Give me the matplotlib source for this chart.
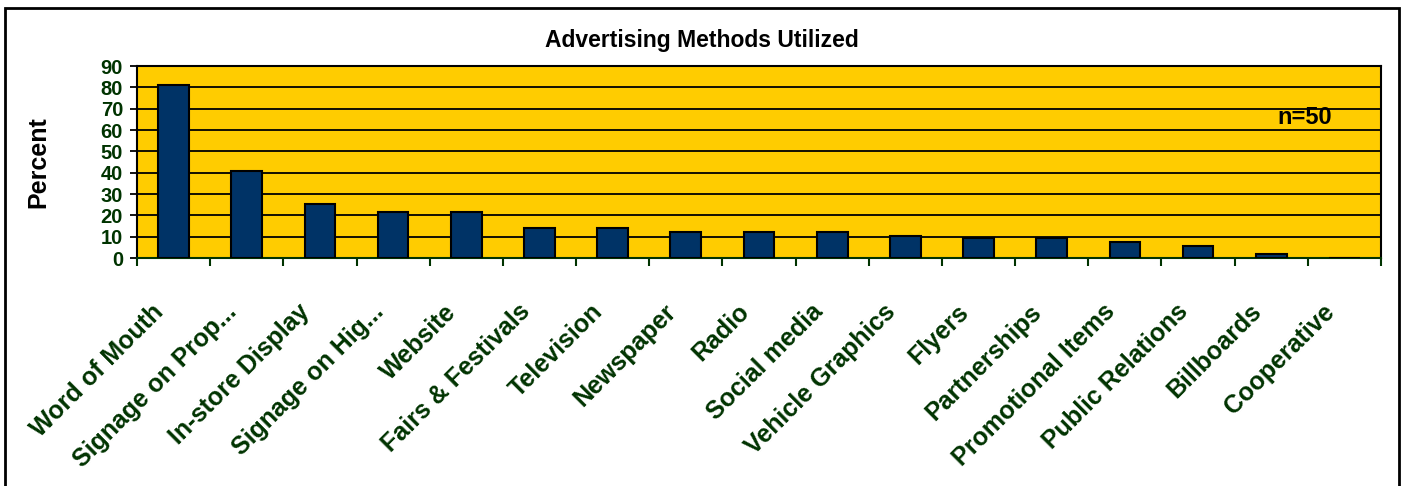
import numpy as np
import matplotlib.pyplot as plt
import matplotlib.transforms as mtransforms
from matplotlib.patches import Rectangle

plt.rcParams['font.family'] = ['Liberation Sans', 'DejaVu Sans']
plt.rcParams['font.weight'] = 'bold'

# DATOS
metodos = ["Word of Mouth", "Signage on Prop...", "In-store Display", "Signage on Hig...",
           "Website", "Fairs & Festivals", "Television", "Newspaper", "Radio",
           "Social media", "Vehicle Graphics", "Flyers", "Partnerships",
           "Promotional Items", "Public Relations", "Billboards", "Cooperative"]
porcentajes = [81, 41, 25.5, 21.6, 21.6, 14, 14, 12.2, 12.2, 12.2, 10.4, 9.2, 9.2, 7.5, 5.6, 1.9, 0]
ticks_y = [0, 10, 20, 30, 40, 50, 60, 70, 80, 90]

verde = '#003300'

fig = plt.figure(figsize=(14.04, 4.86), dpi=100)
ax = fig.add_axes([137 / 1404, 1 - 258 / 486, 1244 / 1404, 192 / 486])
ax.set_facecolor('#FFCC00')

x = np.arange(len(metodos))
ax.bar(x, porcentajes, width=0.42, color='#003366', edgecolor='black', linewidth=1.5, zorder=3)

ax.set_xlim(-0.5, len(metodos) - 0.5)
ax.set_ylim(0, 90)
ax.set_yticks(ticks_y)
ax.yaxis.grid(True, color='black', linewidth=1.3, zorder=1)
ax.set_axisbelow(True)

ax.tick_params(axis='y', direction='out', length=5, width=1.3, color='black',
               labelcolor=verde, labelsize=14.5, pad=5)
for t in ax.get_yticklabels():
    t.set_fontweight('bold')

# ETIQUETAS X EN EL CENTRO, MARCAS EN LOS LIMITES
ax.set_xticks(x)
ax.set_xticklabels(metodos, rotation=45, ha='right', va='top', rotation_mode='anchor',
                   fontsize=18, fontweight='bold', color=verde)
ax.tick_params(axis='x', which='major', length=0, pad=30)
ax.set_xticks(np.arange(-0.5, len(metodos)), minor=True)
ax.tick_params(axis='x', which='minor', direction='out', length=6, width=1.5, color=verde)
desplazar = mtransforms.ScaledTranslation(-22 / 100, 0, fig.dpi_scale_trans)
for t in ax.get_xticklabels():
    t.set_transform(t.get_transform() + desplazar)

for lado in ['left', 'top', 'right']:
    ax.spines[lado].set_color('black')
    ax.spines[lado].set_linewidth(1.5)
ax.spines['bottom'].set_color(verde)
ax.spines['bottom'].set_linewidth(1.5)

ax.set_ylabel("Percent", fontsize=18, fontweight='bold', color='black', labelpad=36)
ax.text(0.939, 0.73, "n=50", transform=ax.transAxes, ha='center', va='center',
        fontsize=17, fontweight='bold', color='black')

fig.text(0.5, 1 - 40 / 486, "Advertising Methods Utilized", ha='center', va='center',
         fontsize=16.5, fontweight='bold', color='black')

# MARCO DE LA FIGURA
fig.patches.append(Rectangle((5 / 1404, -0.1), 1394 / 1404, 1.1 - 8 / 486,
                             transform=fig.transFigure, fill=False,
                             edgecolor='black', linewidth=2))

fig.savefig("out.png", dpi=100, facecolor='white')
